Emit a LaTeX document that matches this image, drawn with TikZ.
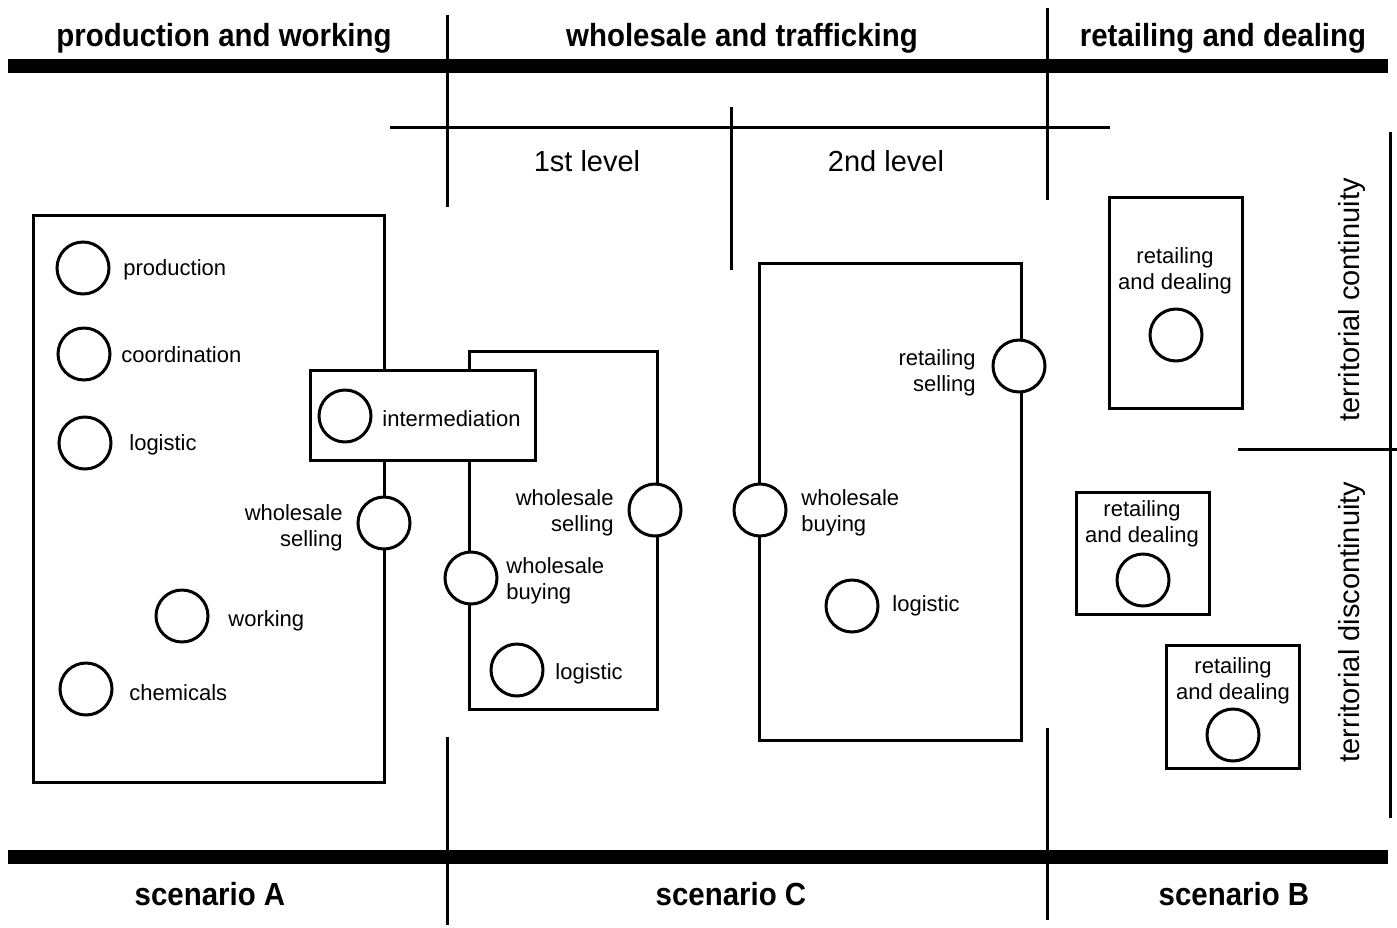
\documentclass[tikz,border=0pt]{standalone}
\usepackage{fontspec}
\setmainfont{Liberation Sans}
\newfontfamily\headfont[FakeStretch=0.92]{Liberation Sans}
\usetikzlibrary{positioning}

\begin{document}
\begin{tikzpicture}[x=0.5pt,y=-0.5pt,
bar/.style={line width=7pt},
rule/.style={line width=1.5pt},
frame/.style={draw,line width=1.5pt},
spot/.style={circle,draw,line width=1.5pt,fill=white,minimum size=26pt,inner sep=0pt},
lbl/.style={font=\fontsize{11}{13}\selectfont,align=center,inner sep=1pt},
head/.style={font=\headfont\bfseries\fontsize{16}{18}\selectfont},
level/.style={font=\fontsize{14.5}{17}\selectfont}]
\useasboundingbox (0,0) rectangle (1397,927);
% bars and dividers
\draw[bar](8,66)--(1388,66);\draw[bar](8,857)--(1388,857);
\draw[rule](447,15)--(447,207);\draw[rule](447,737)--(447,925);
\draw[rule](1047,8)--(1047,200);\draw[rule](1047,728)--(1047,920);
\draw[rule](390,127)--(1110,127);\draw[rule](731,107)--(731,270);
\draw[rule](1390,132)--(1390,818);\draw[rule](1238,449)--(1397,449);
\node[head](hprod) at (224,38){production and working};
\node[head](hwhole) at (742,38){wholesale and trafficking};
\node[head](hretail) at (1223,38){retailing and dealing};
\node[level](lvl1) at (587,161){1st level};
\node[level](lvl2) at (886,161){2nd level};
\node[head](scA) at (210,894){scenario A};
\node[head](scC) at (731,894){scenario C};
\node[head](scB) at (1234,894){scenario B};
\node[level,rotate=90](cont) at (1352,300){territorial continuity};
\node[level,rotate=90](disc) at (1352,622){territorial discontinuity};
% scenario A
\draw[frame](33,215) rectangle (384,782);
\node[spot](prod) at (83,268){};\node[lbl,anchor=west] at (121,270){production};
\node[spot](coord) at (84,354){};\node[lbl,anchor=west] at (119,355){coordination};
\node[spot](logA) at (85,443){};\node[lbl,anchor=west] at (127,445){logistic};
\node[spot](work) at (182,616){};\node[lbl,anchor=west] at (226,621){working};
\node[spot](chem) at (86,689){};\node[lbl,anchor=west] at (127,693){chemicals};
\node[spot](sellA) at (384,523){};\node[lbl,anchor=east,align=right] at (345,528){wholesale\\selling};
% 1st level
\draw[frame](469,351) rectangle (657,709);
\node[spot](sell1) at (655,510){};\node[lbl,anchor=east,align=right] at (616,513){wholesale\\selling};
\node[spot](buy1) at (471,578){};\node[lbl,anchor=west,align=left] at (504,581){wholesale\\buying};
\node[spot](log1) at (517,670){};\node[lbl,anchor=west] at (553,674){logistic};
% intermediation
\filldraw[frame,fill=white](310,370) rectangle (535,460);
\node[spot](inter) at (345,416){};\node[lbl,anchor=west] at (380,419){intermediation};
% 2nd level
\draw[frame](759,263) rectangle (1021,740);
\node[spot](sell2) at (1019,366){};\node[lbl,anchor=east,align=right] at (978,373){retailing\\selling};
\node[spot](buy2) at (760,510){};\node[lbl,anchor=west,align=left] at (799,513){wholesale\\buying};
\node[spot](log2) at (852,606){};\node[lbl,anchor=west] at (890,606){logistic};
% scenario B
\draw[frame](1109,197) rectangle (1242,408);
\node[lbl](rd1) at (1175,271){retailing\\and dealing};\node[spot](ret1) at (1176,335){};
\draw[frame](1076,492) rectangle (1209,614);
\node[lbl](rd2) at (1142,524){retailing\\and dealing};\node[spot](ret2) at (1143,580){};
\draw[frame](1166,645) rectangle (1299,768);
\node[lbl](rd3) at (1233,681){retailing\\and dealing};\node[spot](ret3) at (1233,735){};
\end{tikzpicture}
\end{document}
